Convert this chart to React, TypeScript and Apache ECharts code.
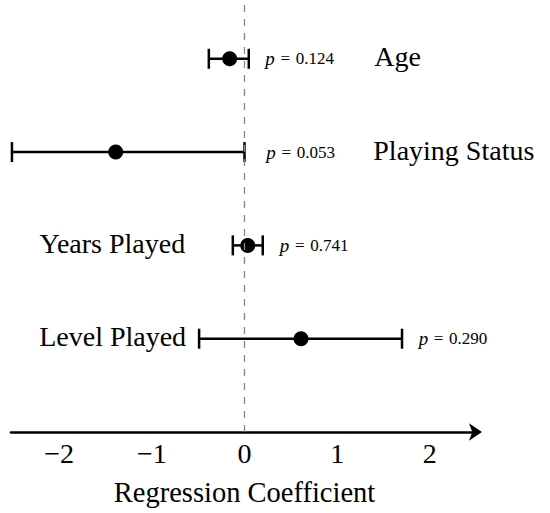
import React, { useEffect, useRef } from "react";
import * as echarts from "echarts";

const categories = ["Age", "Playing Status", "Years Played", "Level Played"];
const estimates = [-0.16, -1.39, 0.035, 0.61];
const ciLower = [-0.385, -2.51, -0.126, -0.49];
const ciUpper = [0.046, 0.0, 0.197, 1.7];
const pValues = ["0.124", "0.053", "0.741", "0.290"];
const rowPositions = [4, 3, 2, 1];
const nameLabelX = [1.4, 1.39, -0.64, -0.63];
const nameLabelAlign = ["left", "left", "right", "right"];
const pLabelX = [0.225, 0.235, 0.38, 1.88];
const xTicks = [-2, -1, 0, 1, 2];
const axisTitle = "Regression Coefficient";

const FONT = "'Liberation Serif', 'DejaVu Serif', serif";

export default function App() {
  const ref = useRef<HTMLDivElement>(null);
  useEffect(() => {
    document.body.style.margin = "0";
    if (!ref.current) return;
    const chart = echarts.init(ref.current, null, { renderer: "svg" });
    const rows = categories.map((c, i) => [
      estimates[i],
      rowPositions[i],
      ciLower[i],
      ciUpper[i],
      i,
    ]);
    chart.setOption({
      animation: false,
      backgroundColor: "#fff",
      grid: { left: 11, right: 72, top: 0, bottom: 81 },
      xAxis: {
        type: "value",
        min: -2.52,
        max: 2.52,
        splitLine: { show: false },
        axisTick: { show: false },
        axisLine: {
          show: true,
          onZero: false,
          symbol: ["none", "arrow"],
          symbolSize: [13, 13],
          symbolOffset: [0, 4],
          lineStyle: { color: "#000", width: 2.6 },
        },
        axisLabel: {
          customValues: xTicks,
          color: "#000",
          fontFamily: FONT,
          fontSize: 28,
          margin: 7,
          formatter: (v: number) => (v < 0 ? "\u2212" + Math.abs(v) : String(v)),
        },
        name: axisTitle,
        nameLocation: "middle",
        nameGap: 46,
        nameTextStyle: { color: "#000", fontFamily: FONT, fontSize: 28.5 },
      },
      yAxis: { type: "value", min: 0, max: 4.63, show: false },
      series: [
        {
          type: "custom",
          data: rows,
          encode: { x: [0, 2, 3], y: 1 },
          renderItem: (params: any, api: any) => {
            const y = api.value(1);
            const a = api.coord([api.value(2), y]);
            const b = api.coord([api.value(3), y]);
            const st = { stroke: "#000", lineWidth: 2.5 };
            return {
              type: "group",
              children: [
                { type: "line", shape: { x1: a[0], y1: a[1], x2: b[0], y2: b[1] }, style: st },
                { type: "line", shape: { x1: a[0], y1: a[1] - 10, x2: a[0], y2: a[1] + 10 }, style: st },
                { type: "line", shape: { x1: b[0], y1: b[1] - 10, x2: b[0], y2: b[1] + 10 }, style: st },
              ],
            };
          },
          markLine: {
            silent: true,
            symbol: ["none", "none"],
            label: { show: false },
            lineStyle: { color: "#888", type: [7, 7], width: 1.3 },
            data: [{ xAxis: 0 }],
          },
          z: 2,
        },
        {
          type: "scatter",
          data: rows.map((r) => [r[0], r[1]]),
          symbol: "circle",
          symbolSize: 15,
          itemStyle: { color: "#000", opacity: 1 },
          z: 3,
        },
        {
          type: "custom",
          data: rows,
          encode: { x: 0, y: 1 },
          renderItem: (params: any, api: any) => {
            const i = api.value(4);
            const y = api.value(1);
            const pn = api.coord([nameLabelX[i], y]);
            const pp = api.coord([pLabelX[i], y]);
            return {
              type: "group",
              children: [
                {
                  type: "text",
                  x: pn[0],
                  y: pn[1] - 2,
                  style: {
                    text: categories[i],
                    font: `28px ${FONT}`,
                    fill: "#000",
                    align: nameLabelAlign[i],
                    verticalAlign: "middle",
                  },
                },
                {
                  type: "text",
                  x: pp[0],
                  y: pp[1],
                  style: {
                    text: "{i|p}\u2004=\u2004" + pValues[i],
                    font: `17px ${FONT}`,
                    fill: "#000",
                    align: "left",
                    verticalAlign: "middle",
                    rich: {
                      i: { fontStyle: "italic", fontSize: 19, fontFamily: FONT, fill: "#000" },
                    },
                  },
                },
              ],
            };
          },
          z: 4,
        },
      ],
    });
    return () => chart.dispose();
  }, []);
  return <div ref={ref} style={{ width: 550, height: 513 }} />;
}
